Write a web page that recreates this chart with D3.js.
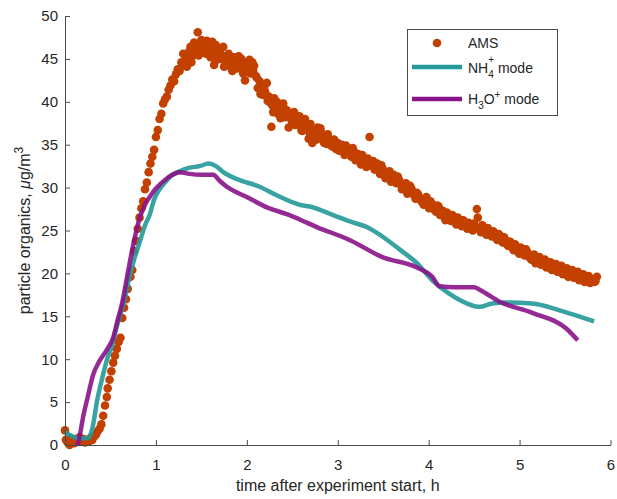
<!DOCTYPE html>
<html>
<head>
<meta charset="utf-8">
<script src="https://cdn.jsdelivr.net/npm/d3@7"></script>
<style>
  body { margin: 0; background: #fff; }
  text { font-family: "Liberation Sans", Arial, Helvetica, sans-serif; fill: #262626; }
</style>
</head>
<body>
<div id="my_dataviz"></div>
<script>
var amsT = [0.00,0.01,0.03,0.05,0.06,0.08,0.10,0.12,0.14,0.16,0.18,0.20,0.22,0.24,0.26,0.28,0.30,0.32,0.34,0.36,0.38,
  0.40,0.42,0.44,0.46,0.47,0.49,0.51,0.53,0.55,0.57,0.59,0.61,0.63,0.65,0.67,0.69,0.72,0.74,0.76,0.78,0.80,0.82,0.84,0.86,0.88,0.90,
  0.92,0.94,0.96,0.98,1.00,1.02,1.04,1.06,1.08,1.10,1.12,1.14,1.16,1.18,1.20,1.22,1.24,1.26,1.28,1.30,1.32,1.34,1.36,1.38,1.40,
  1.42,1.44,1.46,1.48,1.50,1.52,1.54,1.56,1.58,1.60,1.62,1.64,1.66,1.68,1.70,1.72,1.74,1.76,1.78,1.80,1.82,1.84,1.86,1.88,1.90,
  1.92,1.94,1.96,1.98,2.00,2.02,2.04,2.06,2.08,2.10,2.12,2.14,2.16,2.18,2.20,2.22,2.24,2.26,2.27,2.28,2.30,2.32,2.34,2.36,2.38,
  2.40,2.42,2.44,2.46,2.48,2.50,2.52,2.54,2.56,2.58,2.60,2.62,2.64,2.66,2.68,2.70,2.72,2.74,2.76,2.78,2.80,2.82,2.84,2.86,2.88,
  2.90,2.92,2.94,2.96,2.98,3.00,3.03,3.06,3.09,3.12,3.15,3.18,3.21,3.24,3.27,3.30,3.33,3.35,3.36,3.39,3.42,3.45,3.48,3.51,3.54,
  3.57,3.60,3.63,3.66,3.69,3.72,3.75,3.78,3.81,3.84,3.87,3.90,3.93,3.96,3.99,4.02,4.05,4.08,4.11,4.14,4.17,4.20,4.23,4.26,4.29,
  4.32,4.35,4.38,4.41,4.44,4.47,4.50,4.53,4.54,4.56,4.59,4.62,4.65,4.68,4.71,4.74,4.77,4.80,4.83,4.86,4.89,4.92,4.95,4.98,5.01,
  5.04,5.07,5.10,5.13,5.16,5.19,5.22,5.25,5.28,5.31,5.34,5.37,5.40,5.43,5.46,5.49,5.52,5.55,5.58,5.61,5.64,5.67,5.70,5.73,5.76,
  5.79,5.82,5.85];
var amsV = [1.7,0.6,0.3,0.0,0.8,0.4,0.2,0.7,0.4,0.9,0.5,0.7,0.3,0.6,0.4,0.8,0.6,1.0,1.2,1.6,1.9,
  2.4,3.4,4.6,5.6,6.6,7.6,8.6,9.6,10.4,11.2,12.0,12.5,14.8,16.0,17.0,18.2,19.6,20.4,22.6,23.8,25.2,26.5,27.6,28.4,29.8,30.6,
  31.8,32.8,33.6,34.4,35.9,36.7,38.0,38.6,39.8,40.3,40.6,41.4,41.9,42.6,42.4,43.2,43.8,43.6,44.6,45.6,44.9,44.1,45.8,46.4,45.3,
  46.9,45.9,48.1,46.6,47.2,46.0,46.8,47.1,46.4,45.2,47.0,44.3,46.6,45.7,46.2,45.0,46.4,45.3,44.6,45.6,44.4,43.6,45.2,44.8,43.9,
  44.7,45.0,43.3,42.5,44.6,44.0,43.3,44.6,44.2,43.0,41.6,42.4,41.9,40.8,41.2,42.2,40.6,39.9,37.1,39.6,40.4,39.2,38.6,39.4,38.9,
  39.8,38.2,39.0,37.0,38.4,37.6,38.8,38.0,37.4,38.3,36.7,37.2,38.0,36.9,35.7,37.4,35.2,36.6,36.2,37.0,35.8,36.4,35.6,36.0,35.1,
  35.7,35.3,34.8,35.6,34.5,35.2,34.6,34.2,34.9,34.0,33.6,34.2,33.5,33.1,33.8,32.9,33.4,35.9,32.6,33.1,32.4,32.0,32.6,31.7,31.4,
  31.9,31.2,30.8,31.3,30.4,30.0,30.5,29.6,29.9,29.1,29.4,28.8,28.3,28.7,28.0,28.4,27.7,27.2,27.8,27.0,26.6,27.1,26.4,26.8,26.0,
  26.5,25.8,26.2,25.6,25.9,25.4,25.8,27.5,26.5,25.2,25.6,24.9,25.3,24.6,24.9,24.2,24.6,23.8,24.2,23.4,23.7,23.0,23.4,22.6,23.0,
  22.4,22.8,22.0,21.6,22.2,21.4,21.9,21.2,21.6,20.9,21.3,20.7,21.1,20.5,20.9,20.2,20.6,19.9,20.4,19.8,20.2,19.5,19.9,19.3,19.7,
  19.2,19.0,19.6];

// second pass of AMS readings where the dots overlap in a thick band
var amsT2 = [1.31,1.35,1.39,1.43,1.47,1.51,1.55,1.59,1.63,1.67,1.71,1.75,1.79,1.83,1.87,1.91,1.95,1.99,2.03,2.07,2.11,2.15,2.19,
  2.23,2.29,2.33,2.37,2.41,2.45,2.49,2.53,2.57,2.61,2.65,2.69,2.73,2.77,2.81,2.85,2.89,2.93,2.97,3.015,3.045,3.075,3.105,3.135,
  3.165,3.195,3.225,3.255,3.285,3.315,3.375,3.405,3.435,3.465,3.495,3.525,3.555,3.585,3.615,3.645,3.675,3.705,3.735,3.765,3.795,
  3.825,3.855,3.885,3.915,3.945,3.975,4.005,4.035,4.065,4.095,4.125,4.155,4.185,4.215,4.245,4.275,4.305,4.335,4.365,4.395,4.425,
  4.455,4.485,4.575,4.605,4.635,4.665,4.695,4.725,4.755,4.785,4.815,4.845,4.875,4.905,4.935,4.965,4.995,5.025,5.055,5.085,5.115,
  5.145,5.175,5.205,5.235,5.265,5.295,5.325,5.355,5.385,5.415,5.445,5.475,5.505,5.535,5.565,5.595,5.625,5.655,5.685,5.715,5.745,
  5.775,5.805,5.835];
var amsV2 = [44.2,45.1,44.6,46.5,45.4,46.2,45.6,46.9,45.8,44.9,45.6,44.1,45.1,43.9,44.2,45.3,44.1,43.5,44.9,43.6,42.8,40.9,41.6,
  40.1,38.8,40.0,38.1,39.2,38.6,37.9,37.3,37.8,36.6,37.5,36.4,36.0,35.6,36.9,35.2,36.2,34.9,35.1,34.3,35.0,33.8,34.5,33.9,
  34.6,33.2,33.9,32.7,33.3,32.4,33.0,32.1,32.8,31.6,32.2,31.1,31.8,30.7,31.5,30.5,30.9,29.8,30.3,29.3,30.2,
  29.5,28.7,29.2,28.5,28.0,28.9,27.6,28.1,27.4,27.9,26.8,27.3,26.2,26.9,26.1,26.6,25.7,26.2,25.5,26.0,25.2,
  25.7,25.0,24.8,25.4,24.5,25.0,24.3,24.7,23.9,24.4,23.6,23.9,23.2,23.6,22.7,23.1,22.3,22.9,22.1,22.5,21.8,
  22.0,21.2,21.7,21.0,21.4,20.7,21.1,20.4,20.9,20.2,20.6,19.9,20.3,19.6,20.1,19.5,19.9,19.2,19.6,19.0,19.5,
  18.9,19.3,19.1];

// NH4+ mode model
var nh4T = [0.00,0.08,0.16,0.25,0.28,0.31,0.35,0.41,0.46,0.52,0.55,0.60,0.65,0.71,0.76,0.82,0.88,0.93,0.98,1.04,1.10,1.16,1.26,
  1.36,1.48,1.58,1.66,1.74,1.89,2.14,2.33,2.58,2.69,2.95,3.15,3.32,3.49,3.68,3.86,4.04,4.23,4.42,4.56,4.70,4.85,5.14,5.44,5.82];
var nh4V = [1.5,1.0,0.8,0.8,1.2,2.4,5.0,7.8,9.9,11.7,13.0,14.9,16.8,19.6,21.6,23.6,25.6,26.8,28.6,29.8,30.6,31.3,31.9,
  32.3,32.5,32.8,32.5,31.8,31.0,30.1,29.1,28.0,27.8,26.8,26.0,25.4,24.3,22.8,21.3,19.2,17.6,16.5,16.1,16.5,16.6,16.5,15.7,14.4];

// H3O+ mode model
var h3oT = [0.14,0.17,0.20,0.25,0.31,0.38,0.46,0.53,0.58,0.63,0.69,0.75,0.82,0.88,0.95,1.01,1.10,1.18,1.26,1.37,1.50,1.63,1.70,
  1.78,2.00,2.22,2.44,2.60,2.77,3.13,3.49,3.87,4.04,4.12,4.30,4.50,4.56,4.78,5.14,5.51,5.64];
var h3oV = [0.0,1.5,3.3,5.6,8.2,9.8,11.1,12.5,14.6,16.6,20.0,23.3,26.4,28.0,29.2,30.0,30.9,31.5,31.8,31.6,31.5,31.5,30.8,
  30.1,28.9,27.7,26.9,26.2,25.4,23.9,21.9,20.7,19.6,18.5,18.4,18.4,18.1,16.7,15.4,13.6,12.2];

var xTicks = [0, 1, 2, 3, 4, 5, 6];
var yTicks = [0, 5, 10, 15, 20, 25, 30, 35, 40, 45, 50];

var amsColor = "#c24000";
var nh4Color = "#249999";
var h3oColor = "#8a1389";

var width = 617, height = 499;
var margin = {top: 16, right: 6.5, bottom: 54, left: 65};

var svg = d3.select("#my_dataviz")
  .append("svg")
  .attr("width", width)
  .attr("height", height);

var x = d3.scaleLinear().domain([0, 6]).range([margin.left, width - margin.right]);
var y = d3.scaleLinear().domain([0, 50]).range([height - margin.bottom, margin.top]);

var amsPoints = amsT.map(function(t, i) { return [t, amsV[i]]; })
  .concat(amsT2.map(function(t, i) { return [t, amsV2[i]]; }));

// AMS dots
svg.append("g")
  .selectAll("circle")
  .data(amsPoints)
  .enter()
  .append("circle")
  .attr("cx", function(d) { return x(d[0]); })
  .attr("cy", function(d) { return y(d[1]); })
  .attr("r", 4.3)
  .attr("fill", amsColor);

// model lines
var line = d3.line()
  .x(function(d) { return x(d[0]); })
  .y(function(d) { return y(d[1]); })
  .curve(d3.curveMonotoneX);

svg.append("path")
  .datum(nh4T.map(function(t, i) { return [t, nh4V[i]]; }))
  .attr("d", line)
  .attr("fill", "none")
  .attr("stroke", nh4Color)
  .attr("stroke-width", 4.5)
  .attr("stroke-opacity", 0.9);

svg.append("path")
  .datum(h3oT.map(function(t, i) { return [t, h3oV[i]]; }))
  .attr("d", line)
  .attr("fill", "none")
  .attr("stroke", h3oColor)
  .attr("stroke-width", 4.5)
  .attr("stroke-opacity", 0.9);

// axes, ticks pointing inward like matlab
var xAxis = svg.append("g")
  .attr("transform", "translate(0," + y(0) + ")")
  .call(d3.axisBottom(x).tickValues(xTicks).tickFormat(d3.format("d"))
    .tickSizeInner(-5).tickSizeOuter(0).tickPadding(14));

var yAxis = svg.append("g")
  .attr("transform", "translate(" + x(0) + ",0)")
  .call(d3.axisLeft(y).tickValues(yTicks).tickFormat(d3.format("d"))
    .tickSizeInner(-5).tickSizeOuter(0).tickPadding(7));

[xAxis, yAxis].forEach(function(ax) {
  ax.select(".domain").attr("stroke", "#4a4a4a");
  ax.selectAll(".tick line").attr("stroke", "#4a4a4a");
  ax.selectAll(".tick text")
    .style("font-family", "'Liberation Sans', Arial, sans-serif")
    .style("font-size", "15px")
    .attr("fill", "#262626");
});

// axis labels
svg.append("text")
  .attr("x", (x(0) + x(6)) / 2)
  .attr("y", 491)
  .attr("text-anchor", "middle")
  .style("font-size", "16px")
  .text("time after experiment start, h");

var ylab = svg.append("text")
  .attr("transform", "translate(30," + ((y(0) + y(50)) / 2) + ") rotate(-90)")
  .attr("text-anchor", "middle")
  .style("font-size", "16px");
ylab.append("tspan").text("particle organics, ");
ylab.append("tspan").style("font-style", "italic").text("\u03bc");
ylab.append("tspan").text("g/m");
ylab.append("tspan").attr("dy", -7).style("font-size", "12px").text("3");

// legend
var legend = svg.append("g");
legend.append("rect")
  .attr("x", 407.5).attr("y", 29.5)
  .attr("width", 150).attr("height", 86)
  .attr("fill", "#fff")
  .attr("stroke", "#4a4a4a")
  .attr("stroke-width", 1);

legend.append("circle").attr("cx", 437).attr("cy", 43).attr("r", 4.3).attr("fill", amsColor);
legend.append("text").attr("x", 468).attr("y", 48).style("font-size", "14px").text("AMS");

legend.append("line").attr("x1", 412).attr("x2", 462).attr("y1", 67).attr("y2", 67)
  .attr("stroke", nh4Color).attr("stroke-width", 4.5);
var t1 = legend.append("text").attr("x", 468).attr("y", 73).style("font-size", "14px");
t1.append("tspan").text("NH");
t1.append("tspan").attr("dy", 5).style("font-size", "10px").text("4");
t1.append("tspan").attr("dx", -5.6).attr("dy", -15).style("font-size", "10px").text("+");
t1.append("tspan").attr("dy", 10).text(" mode");

legend.append("line").attr("x1", 412).attr("x2", 462).attr("y1", 99).attr("y2", 99)
  .attr("stroke", h3oColor).attr("stroke-width", 4.5);
var t2 = legend.append("text").attr("x", 468).attr("y", 104).style("font-size", "14px");
t2.append("tspan").text("H");
t2.append("tspan").attr("dy", 5).style("font-size", "10px").text("3");
t2.append("tspan").attr("dy", -5).text("O");
t2.append("tspan").attr("dy", -6).style("font-size", "10px").text("+");
t2.append("tspan").attr("dy", 6).text(" mode");
</script>
</body>
</html>
